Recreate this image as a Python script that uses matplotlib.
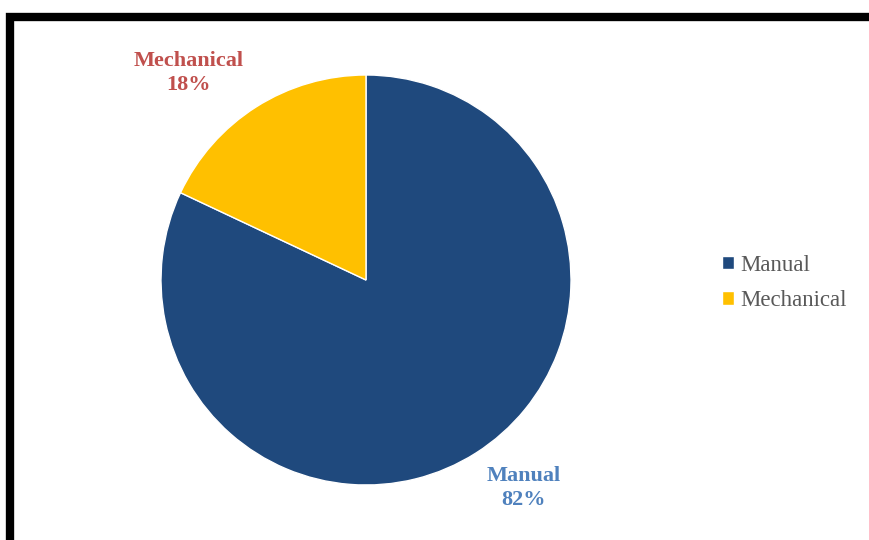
import matplotlib
matplotlib.use("Agg")
import matplotlib.pyplot as plt
from matplotlib.patches import Rectangle

categories = ["Manual", "Mechanical"]
values = [82, 18]
colors = ["#1F497D", "#FFC000"]
label_colors = ["#4F81BD", "#C0504D"]

plt.rcParams['font.family'] = ['Liberation Serif', 'DejaVu Serif']

fig = plt.figure(figsize=(8.7, 5.4), dpi=100)
ax = fig.add_axes([0, 0, 1, 1])
ax.set_xlim(0, 870)
ax.set_ylim(0, 540)
ax.axis('off')

wedges, _ = ax.pie(values, colors=colors, startangle=90, counterclock=False,
                   center=(366, 260), radius=205, frame=True,
                   wedgeprops=dict(edgecolor='white', linewidth=1))
ax.set_xlim(0, 870)
ax.set_ylim(0, 540)
ax.set_aspect('equal')
ax.axis('off')

# border
ax.add_patch(Rectangle((10, -20), 900, 543, fill=False, edgecolor='black', linewidth=6, clip_on=False))

# data labels
label_pos = [(524, 52), (189, 467)]
for (x, y), cat, v, c in zip(label_pos, categories, values, label_colors):
    ax.text(x, y, f"{cat}\n{v}%", ha='center', va='center', color=c,
            fontsize=16, fontweight='bold', linespacing=1.3)

# legend
leg = ax.legend(wedges, categories, loc='center left', bbox_to_anchor=(701/870, 257/540),
                frameon=False, fontsize=16.5, handlelength=0.55, handleheight=0.55,
                handletextpad=0.25, labelspacing=0.65, labelcolor='#595959')

fig.savefig("out.png", dpi=100)
